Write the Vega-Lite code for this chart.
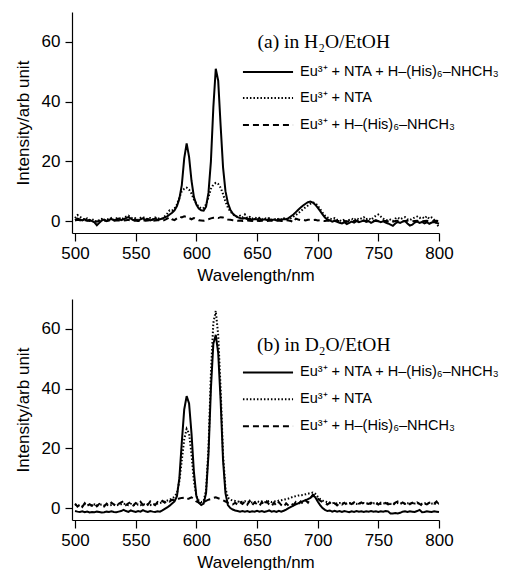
{
  "$schema": "https://vega.github.io/schema/vega-lite/v6.json",
  "padding": {"left": 14, "top": 12, "right": 0, "bottom": 0},
  "autosize": {"type": "pad"},
  "background": "white",
  "spacing": 66,
  "bounds": "flush",
  "config": {
    "view": {"stroke": null},
    "font": "Liberation Sans",
    "axis": {
      "domainColor": "black", "tickColor": "black", "labelColor": "black", "titleColor": "black",
      "grid": false, "labelFont": "Liberation Sans", "titleFont": "Liberation Sans",
      "labelFontSize": 17, "titleFontSize": 17, "titleFontWeight": "normal",
      "tickSize": 8, "domainWidth": 1.2, "tickWidth": 1.2
    }
  },
  "datasets": {
    "a": [
      {"x":500,"s":0.3,"d":1.0,"h":0.2},{"x":502,"s":0.8,"d":2.0,"h":0.4},{"x":504,"s":0.5,"d":1.5,"h":0.3},{"x":506,"s":0.2,"d":0.8,"h":0.1},
      {"x":508,"s":0.6,"d":0.5,"h":0.3},{"x":510,"s":0.1,"d":0.9,"h":0.2},{"x":512,"s":0.4,"d":0.3,"h":0.0},{"x":514,"s":0.0,"d":0.6,"h":0.2},
      {"x":516,"s":-0.4,"d":0.2,"h":0.1},{"x":518,"s":-1.4,"d":-0.3,"h":-0.2},{"x":520,"s":-0.6,"d":0.4,"h":0.1},{"x":522,"s":0.2,"d":0.7,"h":0.3},
      {"x":524,"s":0.5,"d":0.2,"h":0.2},{"x":526,"s":0.0,"d":0.8,"h":0.0},{"x":528,"s":0.4,"d":0.5,"h":0.2},{"x":530,"s":0.7,"d":1.0,"h":0.3},
      {"x":532,"s":0.2,"d":0.4,"h":0.1},{"x":534,"s":0.5,"d":0.9,"h":0.2},{"x":536,"s":0.8,"d":1.2,"h":0.3},{"x":538,"s":0.3,"d":0.6,"h":0.1},
      {"x":540,"s":0.6,"d":1.0,"h":0.2},{"x":542,"s":1.0,"d":1.5,"h":0.3},{"x":544,"s":1.3,"d":1.8,"h":0.4},{"x":546,"s":0.8,"d":1.2,"h":0.2},
      {"x":548,"s":0.3,"d":0.7,"h":0.1},{"x":550,"s":0.5,"d":1.0,"h":0.2},{"x":552,"s":0.1,"d":0.4,"h":0.0},{"x":554,"s":0.6,"d":1.1,"h":0.2},
      {"x":556,"s":0.9,"d":1.4,"h":0.3},{"x":558,"s":0.4,"d":0.8,"h":0.1},{"x":560,"s":0.7,"d":0.6,"h":0.2},{"x":562,"s":0.2,"d":1.0,"h":0.3},
      {"x":564,"s":0.5,"d":0.5,"h":0.1},{"x":566,"s":0.9,"d":1.2,"h":0.2},{"x":568,"s":0.4,"d":0.7,"h":0.3},{"x":570,"s":0.6,"d":1.0,"h":0.2},
      {"x":572,"s":0.8,"d":0.9,"h":0.1},{"x":574,"s":1.2,"d":1.6,"h":0.4},{"x":576,"s":1.6,"d":2.5,"h":0.8},{"x":578,"s":2.2,"d":3.6,"h":1.3},
      {"x":580,"s":2.8,"d":3.5,"h":0.6},{"x":582,"s":3.6,"d":4.2,"h":0.3},{"x":584,"s":5.0,"d":5.5,"h":0.9},{"x":586,"s":7.5,"d":7.8,"h":1.5},
      {"x":588,"s":12.0,"d":10.0,"h":1.2},{"x":590,"s":21.0,"d":10.8,"h":1.6},{"x":592,"s":26.0,"d":11.2,"h":1.4},{"x":594,"s":21.5,"d":10.5,"h":1.0},
      {"x":596,"s":13.5,"d":9.2,"h":0.6},{"x":598,"s":8.0,"d":7.2,"h":1.0},{"x":600,"s":5.5,"d":5.8,"h":0.7},{"x":602,"s":4.2,"d":4.8,"h":0.3},
      {"x":604,"s":3.6,"d":4.2,"h":0.2},{"x":606,"s":3.5,"d":4.4,"h":0.1},{"x":608,"s":4.8,"d":5.6,"h":0.4},{"x":610,"s":9.5,"d":8.0,"h":0.6},
      {"x":612,"s":20.0,"d":10.8,"h":0.9},{"x":614,"s":38.0,"d":12.2,"h":1.1},{"x":616,"s":51.0,"d":12.8,"h":1.2},{"x":618,"s":47.0,"d":12.4,"h":1.0},
      {"x":620,"s":32.0,"d":11.2,"h":1.3},{"x":622,"s":18.0,"d":9.0,"h":1.2},{"x":624,"s":10.0,"d":6.5,"h":0.8},{"x":626,"s":6.0,"d":4.5,"h":0.5},
      {"x":628,"s":3.8,"d":3.2,"h":0.4},{"x":630,"s":2.5,"d":2.4,"h":0.3},{"x":632,"s":1.8,"d":1.6,"h":0.2},{"x":634,"s":1.3,"d":1.4,"h":0.1},
      {"x":636,"s":1.0,"d":1.8,"h":0.2},{"x":638,"s":0.8,"d":1.2,"h":0.0},{"x":640,"s":1.0,"d":2.2,"h":0.1},{"x":642,"s":0.6,"d":1.0,"h":0.2},
      {"x":644,"s":0.8,"d":1.4,"h":0.1},{"x":646,"s":0.4,"d":0.8,"h":0.0},{"x":648,"s":0.7,"d":1.2,"h":0.2},{"x":650,"s":0.5,"d":0.9,"h":0.1},
      {"x":652,"s":0.8,"d":1.1,"h":0.0},{"x":654,"s":0.3,"d":0.6,"h":0.1},{"x":656,"s":0.6,"d":1.0,"h":0.2},{"x":658,"s":0.4,"d":0.7,"h":0.0},
      {"x":660,"s":0.7,"d":1.0,"h":0.1},{"x":662,"s":0.3,"d":0.5,"h":0.2},{"x":664,"s":0.5,"d":0.8,"h":0.0},{"x":666,"s":0.2,"d":0.4,"h":0.1},
      {"x":668,"s":0.6,"d":0.9,"h":0.2},{"x":670,"s":0.4,"d":0.6,"h":0.0},{"x":672,"s":0.7,"d":1.0,"h":0.1},{"x":674,"s":0.6,"d":0.5,"h":0.3},
      {"x":676,"s":1.0,"d":0.6,"h":0.2},{"x":678,"s":1.6,"d":1.0,"h":0.0},{"x":680,"s":2.2,"d":1.5,"h":-0.4},{"x":682,"s":3.0,"d":2.0,"h":0.8},
      {"x":684,"s":3.8,"d":2.6,"h":0.5},{"x":686,"s":4.5,"d":3.3,"h":0.3},{"x":688,"s":5.2,"d":4.0,"h":0.4},{"x":690,"s":5.8,"d":4.6,"h":0.2},
      {"x":692,"s":6.3,"d":5.2,"h":0.4},{"x":694,"s":6.5,"d":5.8,"h":0.5},{"x":696,"s":6.2,"d":6.2,"h":0.3},{"x":698,"s":5.5,"d":6.0,"h":0.4},
      {"x":700,"s":4.5,"d":5.2,"h":0.2},{"x":702,"s":3.4,"d":4.0,"h":0.3},{"x":704,"s":2.2,"d":2.8,"h":0.1},{"x":706,"s":1.2,"d":1.8,"h":0.0},
      {"x":708,"s":0.5,"d":1.2,"h":0.2},{"x":710,"s":0.2,"d":0.8,"h":0.1},{"x":712,"s":-0.2,"d":0.6,"h":0.0},{"x":714,"s":0.1,"d":1.0,"h":0.2},
      {"x":716,"s":-0.3,"d":0.4,"h":0.1},{"x":718,"s":-0.6,"d":0.2,"h":-0.1},{"x":720,"s":-0.8,"d":0.0,"h":0.0},{"x":722,"s":-0.4,"d":0.5,"h":0.1},
      {"x":724,"s":-1.0,"d":-0.2,"h":-0.2},{"x":726,"s":-0.6,"d":0.4,"h":0.0},{"x":728,"s":-0.2,"d":0.8,"h":0.1},{"x":730,"s":-0.5,"d":0.3,"h":0.0},
      {"x":732,"s":0.0,"d":1.0,"h":0.1},{"x":734,"s":-0.4,"d":0.5,"h":-0.1},{"x":736,"s":-0.1,"d":0.9,"h":0.0},{"x":738,"s":0.2,"d":1.3,"h":0.1},
      {"x":740,"s":-0.3,"d":0.6,"h":0.0},{"x":742,"s":0.0,"d":1.0,"h":-0.1},{"x":744,"s":-0.6,"d":0.4,"h":0.0},{"x":746,"s":-0.2,"d":1.2,"h":0.1},
      {"x":748,"s":0.3,"d":1.8,"h":0.0},{"x":750,"s":0.0,"d":2.2,"h":-0.1},{"x":752,"s":-0.4,"d":1.5,"h":0.0},{"x":754,"s":-0.1,"d":0.8,"h":0.1},
      {"x":756,"s":-0.5,"d":0.4,"h":0.0},{"x":758,"s":-0.8,"d":0.2,"h":-0.1},{"x":760,"s":-1.2,"d":0.5,"h":0.0},{"x":762,"s":-1.6,"d":0.0,"h":-0.2},
      {"x":764,"s":-0.8,"d":0.8,"h":0.0},{"x":766,"s":-0.3,"d":1.2,"h":0.1},{"x":768,"s":-0.6,"d":0.6,"h":0.0},{"x":770,"s":-0.2,"d":1.0,"h":-0.1},
      {"x":772,"s":0.0,"d":1.3,"h":0.0},{"x":774,"s":-0.8,"d":0.6,"h":0.1},{"x":776,"s":-1.5,"d":0.3,"h":0.0},{"x":778,"s":-1.2,"d":0.8,"h":-0.1},
      {"x":780,"s":-0.5,"d":1.2,"h":0.0},{"x":782,"s":-0.2,"d":1.5,"h":0.1},{"x":784,"s":-0.6,"d":1.0,"h":0.0},{"x":786,"s":-0.3,"d":1.4,"h":-0.1},
      {"x":788,"s":-0.8,"d":0.9,"h":0.0},{"x":790,"s":-0.4,"d":1.6,"h":0.1},{"x":792,"s":-0.9,"d":0.8,"h":0.0},{"x":794,"s":-0.5,"d":1.2,"h":-0.1},
      {"x":796,"s":-0.3,"d":0.4,"h":0.0},{"x":798,"s":-0.6,"d":-0.8,"h":0.1},{"x":800,"s":-0.9,"d":-2.2,"h":0.0}
    ],
    "b": [
      {"x":500,"s":-1.0,"d":1.2,"h":1.5},{"x":502,"s":-1.2,"d":0.8,"h":0.5},{"x":504,"s":-1.3,"d":1.0,"h":1.2},{"x":506,"s":-1.1,"d":0.6,"h":0.4},
      {"x":508,"s":-1.4,"d":1.3,"h":1.6},{"x":510,"s":-1.2,"d":0.9,"h":0.6},{"x":512,"s":-1.5,"d":1.1,"h":1.3},{"x":514,"s":-1.3,"d":0.7,"h":0.8},
      {"x":516,"s":-1.4,"d":1.2,"h":1.6},{"x":518,"s":-1.2,"d":0.8,"h":0.6},{"x":520,"s":-1.3,"d":1.0,"h":1.4},{"x":522,"s":-1.5,"d":1.2,"h":1.0},
      {"x":524,"s":-1.4,"d":0.9,"h":0.5},{"x":526,"s":-1.2,"d":1.1,"h":1.5},{"x":528,"s":-1.3,"d":0.8,"h":0.9},{"x":530,"s":-1.1,"d":1.0,"h":1.8},
      {"x":532,"s":-1.3,"d":1.2,"h":1.2},{"x":534,"s":-1.4,"d":0.9,"h":0.6},{"x":536,"s":-1.2,"d":1.1,"h":1.4},{"x":538,"s":-1.0,"d":1.3,"h":1.9},
      {"x":540,"s":-0.6,"d":1.5,"h":2.3},{"x":542,"s":-1.0,"d":1.2,"h":1.0},{"x":544,"s":-1.3,"d":1.0,"h":1.6},{"x":546,"s":-0.8,"d":1.4,"h":2.0},
      {"x":548,"s":-1.1,"d":1.1,"h":0.9},{"x":550,"s":-1.3,"d":0.9,"h":1.7},{"x":552,"s":-1.0,"d":1.2,"h":1.2},{"x":554,"s":-1.2,"d":1.0,"h":2.1},
      {"x":556,"s":-0.7,"d":1.4,"h":1.0},{"x":558,"s":-1.1,"d":1.1,"h":1.8},{"x":560,"s":-1.3,"d":1.3,"h":1.1},{"x":562,"s":-1.0,"d":1.0,"h":2.2},
      {"x":564,"s":-1.2,"d":1.4,"h":1.5},{"x":566,"s":-1.3,"d":1.2,"h":1.0},{"x":568,"s":-1.1,"d":1.5,"h":2.0},{"x":570,"s":-1.2,"d":1.7,"h":1.6},
      {"x":572,"s":-0.8,"d":1.9,"h":2.4},{"x":574,"s":-0.3,"d":2.2,"h":1.8},{"x":576,"s":0.2,"d":2.5,"h":2.6},{"x":578,"s":0.8,"d":2.8,"h":2.2},
      {"x":580,"s":1.5,"d":3.2,"h":2.8},{"x":582,"s":2.2,"d":3.8,"h":2.5},{"x":584,"s":4.0,"d":5.0,"h":3.0},{"x":586,"s":10.0,"d":9.0,"h":3.2},
      {"x":588,"s":22.0,"d":16.0,"h":3.4},{"x":590,"s":33.0,"d":23.0,"h":3.5},{"x":592,"s":37.5,"d":26.5,"h":3.0},{"x":594,"s":35.0,"d":25.0,"h":3.2},
      {"x":596,"s":25.0,"d":18.0,"h":3.6},{"x":598,"s":12.0,"d":9.0,"h":3.0},{"x":600,"s":4.0,"d":4.0,"h":2.2},{"x":602,"s":1.8,"d":2.5,"h":1.8},
      {"x":604,"s":1.0,"d":2.0,"h":1.6},{"x":606,"s":1.5,"d":2.3,"h":2.0},{"x":608,"s":5.0,"d":6.0,"h":2.4},{"x":610,"s":18.0,"d":20.0,"h":2.8},
      {"x":612,"s":40.0,"d":45.0,"h":3.0},{"x":614,"s":55.0,"d":62.0,"h":3.4},{"x":616,"s":58.0,"d":66.0,"h":3.6},{"x":618,"s":52.0,"d":58.0,"h":3.3},
      {"x":620,"s":36.0,"d":40.0,"h":3.0},{"x":622,"s":16.0,"d":18.0,"h":2.6},{"x":624,"s":5.0,"d":6.5,"h":2.2},{"x":626,"s":1.0,"d":3.5,"h":1.8},
      {"x":628,"s":0.0,"d":2.8,"h":1.5},{"x":630,"s":-0.5,"d":2.5,"h":1.2},{"x":632,"s":-0.8,"d":2.4,"h":1.8},{"x":634,"s":-1.0,"d":2.2,"h":1.1},
      {"x":636,"s":-1.2,"d":2.0,"h":2.0},{"x":638,"s":-1.0,"d":2.1,"h":1.4},{"x":640,"s":-1.2,"d":2.3,"h":2.2},{"x":642,"s":-1.0,"d":2.0,"h":1.2},
      {"x":644,"s":-1.3,"d":2.2,"h":2.4},{"x":646,"s":-1.1,"d":1.8,"h":1.0},{"x":648,"s":-1.2,"d":2.0,"h":1.9},{"x":650,"s":-0.9,"d":2.3,"h":1.3},
      {"x":652,"s":-1.2,"d":2.0,"h":0.7},{"x":654,"s":-1.0,"d":2.2,"h":2.0},{"x":656,"s":-1.3,"d":1.9,"h":1.0},{"x":658,"s":-1.1,"d":2.1,"h":2.2},
      {"x":660,"s":-0.8,"d":2.4,"h":1.2},{"x":662,"s":-1.2,"d":2.0,"h":0.6},{"x":664,"s":-1.0,"d":2.3,"h":1.8},{"x":666,"s":-1.3,"d":2.2,"h":0.8},
      {"x":668,"s":-0.9,"d":2.5,"h":2.0},{"x":670,"s":-1.2,"d":2.6,"h":1.0},{"x":672,"s":-0.9,"d":2.8,"h":0.4},{"x":674,"s":-0.5,"d":3.0,"h":1.6},
      {"x":676,"s":0.0,"d":3.2,"h":0.8},{"x":678,"s":0.4,"d":3.5,"h":1.5},{"x":680,"s":0.8,"d":3.8,"h":1.0},{"x":682,"s":1.2,"d":4.0,"h":2.0},
      {"x":684,"s":1.6,"d":4.2,"h":1.2},{"x":686,"s":2.0,"d":4.3,"h":2.2},{"x":688,"s":2.3,"d":4.4,"h":1.4},{"x":690,"s":2.6,"d":4.6,"h":2.6},
      {"x":692,"s":3.0,"d":4.8,"h":1.8},{"x":694,"s":3.4,"d":5.0,"h":3.2},{"x":696,"s":4.2,"d":5.2,"h":4.5},{"x":698,"s":3.6,"d":4.8,"h":4.2},
      {"x":700,"s":2.2,"d":3.8,"h":3.2},{"x":702,"s":1.0,"d":3.0,"h":2.5},{"x":704,"s":0.0,"d":2.5,"h":2.0},{"x":706,"s":-0.6,"d":2.2,"h":1.6},
      {"x":708,"s":-1.0,"d":2.0,"h":1.2},{"x":710,"s":-0.8,"d":1.8,"h":1.8},{"x":712,"s":-1.2,"d":1.6,"h":1.0},{"x":714,"s":-0.9,"d":1.8,"h":1.6},
      {"x":716,"s":-1.2,"d":1.5,"h":0.9},{"x":718,"s":-1.0,"d":1.7,"h":1.6},{"x":720,"s":-1.3,"d":1.5,"h":1.2},{"x":722,"s":-1.0,"d":1.8,"h":1.8},
      {"x":724,"s":-1.2,"d":1.5,"h":1.1},{"x":726,"s":-1.4,"d":1.7,"h":1.7},{"x":728,"s":-1.1,"d":1.5,"h":1.3},{"x":730,"s":-1.3,"d":1.6,"h":1.9},
      {"x":732,"s":-1.0,"d":1.4,"h":1.2},{"x":734,"s":-1.2,"d":1.6,"h":1.5},{"x":736,"s":-1.1,"d":1.5,"h":1.9},{"x":738,"s":-1.3,"d":1.7,"h":1.3},
      {"x":740,"s":-1.1,"d":1.5,"h":1.6},{"x":742,"s":-1.2,"d":1.6,"h":1.4},{"x":744,"s":-1.0,"d":1.4,"h":1.8},{"x":746,"s":-1.2,"d":1.6,"h":1.3},
      {"x":748,"s":-1.1,"d":1.5,"h":1.6},{"x":750,"s":-1.3,"d":1.7,"h":1.2},{"x":752,"s":-1.1,"d":1.4,"h":1.8},{"x":754,"s":-1.2,"d":1.6,"h":1.3},
      {"x":756,"s":-1.0,"d":1.5,"h":1.7},{"x":758,"s":-1.1,"d":1.7,"h":1.2},{"x":760,"s":-1.8,"d":1.4,"h":1.5},{"x":762,"s":-1.8,"d":1.6,"h":1.0},
      {"x":764,"s":-1.7,"d":1.5,"h":1.8},{"x":766,"s":-1.8,"d":1.7,"h":2.2},{"x":768,"s":-1.6,"d":1.5,"h":1.3},{"x":770,"s":-1.2,"d":1.6,"h":1.9},
      {"x":772,"s":-1.1,"d":1.4,"h":1.4},{"x":774,"s":-1.3,"d":1.6,"h":2.0},{"x":776,"s":-1.1,"d":1.5,"h":1.3},{"x":778,"s":-1.2,"d":1.7,"h":1.8},
      {"x":780,"s":-1.3,"d":1.5,"h":1.2},{"x":782,"s":-1.0,"d":1.6,"h":1.9},{"x":784,"s":-0.6,"d":1.5,"h":1.4},{"x":786,"s":-1.4,"d":1.4,"h":0.8},
      {"x":788,"s":-1.3,"d":1.6,"h":1.5},{"x":790,"s":-1.1,"d":1.5,"h":1.2},{"x":792,"s":-1.2,"d":1.7,"h":1.8},{"x":794,"s":-1.3,"d":1.5,"h":2.0},
      {"x":796,"s":-1.1,"d":1.6,"h":1.5},{"x":798,"s":-1.2,"d":1.4,"h":2.2},{"x":800,"s":-1.3,"d":1.5,"h":1.0}
    ]
  },
  "vconcat": [
    {
      "width": 367, "height": 221,
      "layer": [
        {"data": {"name": "a"}, "mark": {"type": "line", "stroke": "black", "strokeWidth": 2},
         "encoding": {
           "x": {"field": "x", "type": "quantitative", "scale": {"domain": [497.5, 800], "nice": false, "zero": false},
                 "axis": {"title": "Wavelength/nm", "values": [500, 550, 600, 650, 700, 750, 800], "labelPadding": 4, "titlePadding": 6, "labelFlush": false}},
           "y": {"field": "s", "type": "quantitative", "scale": {"domain": [-4, 70], "nice": false, "zero": false},
                 "axis": {"title": "Intensity/arb unit", "values": [0, 20, 40, 60], "tickSize": 7, "labelPadding": 5, "titlePadding": 9}}}},
        {"data": {"name": "a"}, "mark": {"type": "line", "stroke": "black", "strokeWidth": 2, "strokeDash": [1.5, 2]},
         "encoding": {"x": {"field": "x", "type": "quantitative"}, "y": {"field": "d", "type": "quantitative"}}},
        {"data": {"name": "a"}, "mark": {"type": "line", "stroke": "black", "strokeWidth": 2, "strokeDash": [6, 4]},
         "encoding": {"x": {"field": "x", "type": "quantitative"}, "y": {"field": "h", "type": "quantitative"}}},
        {"data": {"values": [{"k": 1}]}, "mark": {"type": "text", "font": "Liberation Serif", "fontSize": 19.5, "align": "center", "baseline": "alphabetic"},
         "encoding": {"x": {"datum": 705, "type": "quantitative"}, "y": {"datum": 58, "type": "quantitative"}, "text": {"value": "(a) in H₂O/EtOH"}}},
        {"data": {"values": [{"k": 1}]}, "mark": {"type": "rule", "stroke": "black", "strokeWidth": 2},
         "encoding": {"x": {"datum": 638.4, "type": "quantitative"}, "x2": {"datum": 679.7}, "y": {"datum": 49.9, "type": "quantitative"}}},
        {"data": {"values": [{"k": 1}]}, "mark": {"type": "rule", "stroke": "black", "strokeWidth": 2, "strokeDash": [1.5, 2]},
         "encoding": {"x": {"datum": 638.4, "type": "quantitative"}, "x2": {"datum": 679.7}, "y": {"datum": 41.2, "type": "quantitative"}}},
        {"data": {"values": [{"k": 1}]}, "mark": {"type": "rule", "stroke": "black", "strokeWidth": 2, "strokeDash": [6, 4]},
         "encoding": {"x": {"datum": 638.4, "type": "quantitative"}, "x2": {"datum": 679.7}, "y": {"datum": 32.2, "type": "quantitative"}}},
        {"data": {"values": [{"k": 1}]}, "mark": {"type": "text", "fontSize": 14.5, "align": "left", "baseline": "middle"},
         "encoding": {"x": {"datum": 685.4, "type": "quantitative"}, "y": {"datum": 49.9, "type": "quantitative"}, "text": {"value": "Eu³⁺ + NTA + H–(His)₆–NHCH₃"}}},
        {"data": {"values": [{"k": 1}]}, "mark": {"type": "text", "fontSize": 14.5, "align": "left", "baseline": "middle"},
         "encoding": {"x": {"datum": 685.4, "type": "quantitative"}, "y": {"datum": 41.2, "type": "quantitative"}, "text": {"value": "Eu³⁺ + NTA"}}},
        {"data": {"values": [{"k": 1}]}, "mark": {"type": "text", "fontSize": 14.5, "align": "left", "baseline": "middle"},
         "encoding": {"x": {"datum": 685.4, "type": "quantitative"}, "y": {"datum": 32.2, "type": "quantitative"}, "text": {"value": "Eu³⁺ + H–(His)₆–NHCH₃"}}}
      ]
    },
    {
      "width": 367, "height": 221,
      "layer": [
        {"data": {"name": "b"}, "mark": {"type": "line", "stroke": "black", "strokeWidth": 2},
         "encoding": {
           "x": {"field": "x", "type": "quantitative", "scale": {"domain": [497.5, 800], "nice": false, "zero": false},
                 "axis": {"title": "Wavelength/nm", "values": [500, 550, 600, 650, 700, 750, 800], "labelPadding": 4, "titlePadding": 6, "labelFlush": false}},
           "y": {"field": "s", "type": "quantitative", "scale": {"domain": [-4, 70], "nice": false, "zero": false},
                 "axis": {"title": "Intensity/arb unit", "values": [0, 20, 40, 60], "tickSize": 7, "labelPadding": 5, "titlePadding": 9}}}},
        {"data": {"name": "b"}, "mark": {"type": "line", "stroke": "black", "strokeWidth": 2, "strokeDash": [1.5, 2]},
         "encoding": {"x": {"field": "x", "type": "quantitative"}, "y": {"field": "d", "type": "quantitative"}}},
        {"data": {"name": "b"}, "mark": {"type": "line", "stroke": "black", "strokeWidth": 2, "strokeDash": [6, 4]},
         "encoding": {"x": {"field": "x", "type": "quantitative"}, "y": {"field": "h", "type": "quantitative"}}},
        {"data": {"values": [{"k": 1}]}, "mark": {"type": "text", "font": "Liberation Serif", "fontSize": 19.5, "align": "center", "baseline": "alphabetic"},
         "encoding": {"x": {"datum": 705, "type": "quantitative"}, "y": {"datum": 52.5, "type": "quantitative"}, "text": {"value": "(b) in D₂O/EtOH"}}},
        {"data": {"values": [{"k": 1}]}, "mark": {"type": "rule", "stroke": "black", "strokeWidth": 2},
         "encoding": {"x": {"datum": 638.4, "type": "quantitative"}, "x2": {"datum": 679.7}, "y": {"datum": 45.4, "type": "quantitative"}}},
        {"data": {"values": [{"k": 1}]}, "mark": {"type": "rule", "stroke": "black", "strokeWidth": 2, "strokeDash": [1.5, 2]},
         "encoding": {"x": {"datum": 638.4, "type": "quantitative"}, "x2": {"datum": 679.7}, "y": {"datum": 36.4, "type": "quantitative"}}},
        {"data": {"values": [{"k": 1}]}, "mark": {"type": "rule", "stroke": "black", "strokeWidth": 2, "strokeDash": [6, 4]},
         "encoding": {"x": {"datum": 638.4, "type": "quantitative"}, "x2": {"datum": 679.7}, "y": {"datum": 27.4, "type": "quantitative"}}},
        {"data": {"values": [{"k": 1}]}, "mark": {"type": "text", "fontSize": 14.5, "align": "left", "baseline": "middle"},
         "encoding": {"x": {"datum": 685.4, "type": "quantitative"}, "y": {"datum": 45.4, "type": "quantitative"}, "text": {"value": "Eu³⁺ + NTA + H–(His)₆–NHCH₃"}}},
        {"data": {"values": [{"k": 1}]}, "mark": {"type": "text", "fontSize": 14.5, "align": "left", "baseline": "middle"},
         "encoding": {"x": {"datum": 685.4, "type": "quantitative"}, "y": {"datum": 36.4, "type": "quantitative"}, "text": {"value": "Eu³⁺ + NTA"}}},
        {"data": {"values": [{"k": 1}]}, "mark": {"type": "text", "fontSize": 14.5, "align": "left", "baseline": "middle"},
         "encoding": {"x": {"datum": 685.4, "type": "quantitative"}, "y": {"datum": 27.4, "type": "quantitative"}, "text": {"value": "Eu³⁺ + H–(His)₆–NHCH₃"}}}
      ]
    }
  ]
}
